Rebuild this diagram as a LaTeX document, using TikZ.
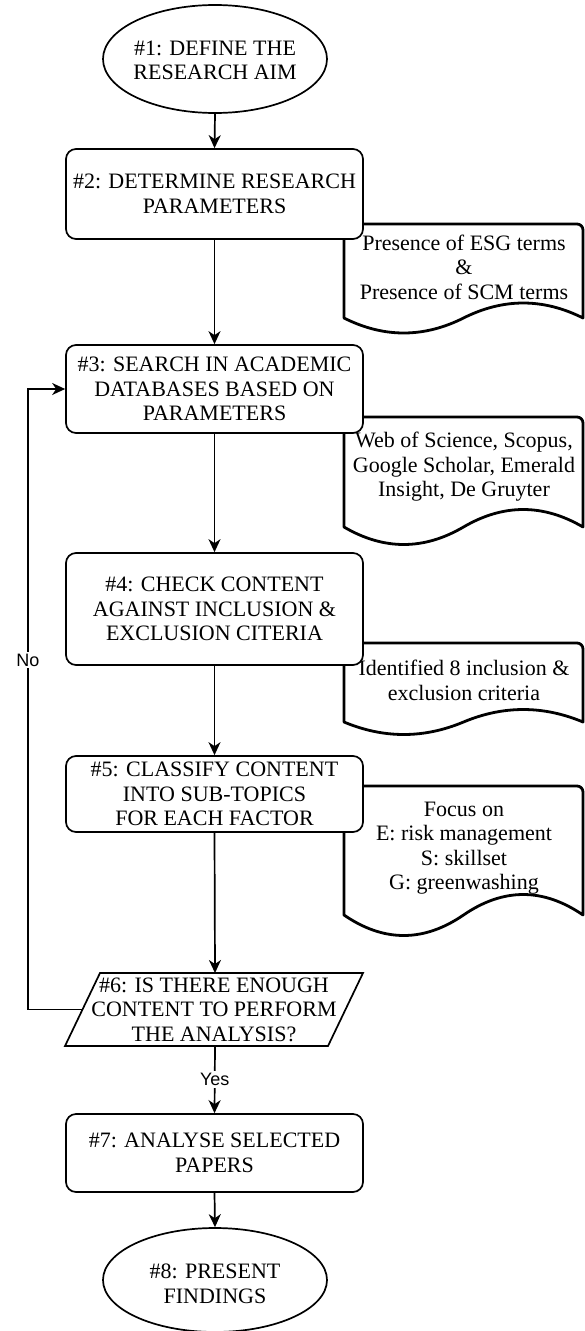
\documentclass[tikz,border=0pt]{standalone}
\usepackage{fontspec}
\setmainfont{Liberation Serif}
\newfontfamily\lsans{Liberation Sans}
\usetikzlibrary{arrows.meta,shapes.geometric}
\newcommand\docpath[3]{% top, end level, amplitude
  \draw[docline] (344,#2) [rounded corners=6pt] -- (344,#1) -- (583,#1) [sharp corners] -- (583,#2)
    .. controls (543.2,{#2-1.333*#3}) and (503.3,{#2-1.333*#3}) .. (463.5,#2)
    .. controls (423.7,{#2+1.333*#3}) and (383.8,{#2+1.333*#3}) .. (344,#2) -- cycle;}
\begin{document}
\begin{tikzpicture}[x=1pt,y=-1pt,
  every node/.style={font=\fontsize{22}{24.5}\selectfont, align=center, inner sep=0pt, text=black},
  stepbox/.style={draw, line width=1.7pt, rounded corners=10pt, fill=white, minimum width=297pt},
  term/.style={draw, ellipse, line width=1.7pt, fill=white, minimum width=224pt},
  docline/.style={draw, line width=2.8pt, fill=white, line join=round},
  doctext/.style={},
  conn/.style={line width=1.7pt, -{Stealth[length=13pt,width=12pt,inset=4pt]}},
  lbl/.style={font=\lsans\fontsize{18}{20}\selectfont, fill=white, inner sep=2pt}]
\useasboundingbox (0,0) rectangle (584,1331);

% documents (behind the boxes)
\docpath{224}{318}{15}
\docpath{417}{527}{17.5}
\docpath{643}{722}{12.5}
\docpath{786}{915}{20.5}
\node[doctext] (d1) at (464,267) {Presence of ESG terms\\\&\\Presence of SCM terms};
\node[doctext] (d2) at (464,467) {Web of Science, Scopus,\\Google Scholar, Emerald\\Insight, De Gruyter};
\node[doctext] (d3) at (464,680.5) {Identified 8 inclusion \&\\exclusion criteria};
\node[doctext] (d4) at (464,848) {Focus on\\E: risk management\\S: skillset\\G: greenwashing};

% main flow
\node[term, minimum height=108pt] (e1) at (215,59) {};
\node at (215,60.5) {\#1: DEFINE THE\\RESEARCH AIM};
\node[stepbox, minimum height=90pt] (b2) at (214.5,194) {\#2: DETERMINE RESEARCH\\PARAMETERS};
\node[stepbox, minimum height=88pt] (b3) at (214.5,389) {\#3: SEARCH IN ACADEMIC\\DATABASES BASED ON\\PARAMETERS};
\node[stepbox, minimum height=112pt] (b4) at (214.5,609) {\#4: CHECK CONTENT\\AGAINST INCLUSION \&\\EXCLUSION CITERIA};
\node[stepbox, minimum height=76pt] (b5) at (214.5,794) {\#5: CLASSIFY CONTENT\\INTO SUB-TOPICS\\FOR EACH FACTOR};

\draw[line width=1.7pt, fill=white] (100,973) -- (363,973) -- (328,1046) -- (65,1046) -- cycle;
\node[minimum width=230pt, minimum height=73pt] (p6) at (214,1009.5) {\#6: IS THERE ENOUGH\\CONTENT TO PERFORM\\THE ANALYSIS?};
\coordinate (p6w) at (82.5,1009.5);
\coordinate (p6n) at (215,973);
\coordinate (p6s) at (215,1046);

\node[stepbox, minimum height=78pt] (b7) at (214.5,1153) {\#7: ANALYSE SELECTED\\PAPERS};
\node[term, minimum height=104pt] (e8) at (215,1280) {};
\node at (215,1284) {\#8: PRESENT\\FINDINGS};

% connectors
\draw[conn] (e1.south) -- (b2.north);
\draw[conn] (b2.south) -- (b3.north);
\draw[conn] (b3.south) -- (b4.north);
\draw[conn] (b4.south) -- (b5.north);
\draw[conn] (b5.south) -- (p6n);
\draw[conn] (p6s) -- node[lbl] {Yes} (b7.north);
\draw[conn] (b7.south) -- (e8.north);
\coordinate (loopB) at (28,1009.5);
\coordinate (loopT) at (28,389);
\draw[conn] (p6w) -- (loopB) -- node[lbl, pos=0.563] {No} (loopT) -- (b3.west);
\end{tikzpicture}
\end{document}
